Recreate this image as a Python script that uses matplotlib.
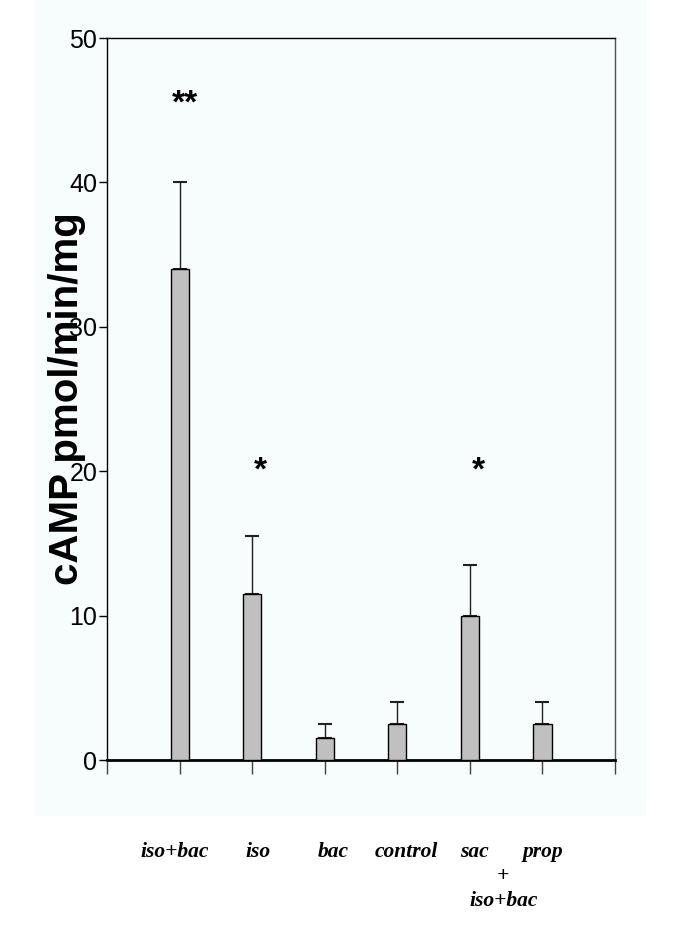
import numpy as np
import matplotlib.pyplot as plt
from matplotlib.patches import Rectangle

# data
groups = ["iso+bac", "iso", "bac", "control", "sac", "prop"]
camp = [34.0, 11.5, 1.5, 2.5, 10.0, 2.5]
sem = [6.0, 4.0, 1.0, 1.5, 3.5, 1.5]
stars = ["**", "*", "", "", "*", ""]
yticks = [0, 10, 20, 30, 40, 50]

bg = "#f7fcfc"

fig = plt.figure(figsize=(6.85, 9.51), dpi=100)
fig.patches.append(Rectangle((35 / 685, 1 - 815 / 951), 610 / 685, 815 / 951,
                             transform=fig.transFigure, color=bg, zorder=-10))

ax = fig.add_axes([107 / 685, 1 - 760 / 951, 508 / 685, 722 / 951])
ax.set_facecolor(bg)

x = np.arange(1, len(groups) + 1)
ax.bar(x, camp, width=0.25, color="#c0c0c0", edgecolor="black", linewidth=1.0, zorder=3)
ax.errorbar(x, camp, yerr=[np.zeros(len(sem)), sem], fmt="none", ecolor="#202020",
            elinewidth=1.0, capsize=5, capthick=1.5, zorder=2)

# significance marks
for xi, s in zip(x, stars):
    if s:
        ax.text(xi + (0.12 if s == "*" else 0.08), 20.0 if s == "*" else 45.4, s,
                ha="center", va="center", fontsize=24, fontweight="bold",
                family="Liberation Sans")

ax.set_xlim(0, 7)
ax.set_ylim(0, 50)
ax.set_xticks(np.arange(0, 8))
ax.set_xticklabels([])
ax.tick_params(axis="x", direction="out", length=10, width=1, color="#404040")
ax.set_yticks(yticks)
ax.set_yticklabels([str(v) for v in yticks], fontsize=18, family="Liberation Sans")
ax.tick_params(axis="y", direction="out", length=6, width=1, pad=1)

for side in ["left", "top", "right"]:
    ax.spines[side].set_linewidth(1.0)
ax.spines["right"].set_color("#505050")
ax.spines["bottom"].set_linewidth(2.0)

# the label sits over the tick labels, as in the original
ax.set_ylabel("cAMP pmol/min/mg", fontsize=29, fontweight="bold",
              family="Liberation Sans")
ax.yaxis.set_label_coords(-0.042, 0.5)

# category labels under the axis (bold italic serif)
lab_font = dict(fontsize=15.5, fontweight="bold", style="italic",
                family="Liberation Serif", ha="center", va="center", clip_on=False)
label_x = [0.93, 2.08, 3.12, 4.13, 5.06, 6.01]
for lx, g in zip(label_x, groups):
    ax.text(lx, -6.35, g, **lab_font)
ax.text(5.46, -8.05, "+", **lab_font)
ax.text(5.46, -9.75, "iso+bac", **lab_font)

fig.savefig("out.png", dpi=100)
